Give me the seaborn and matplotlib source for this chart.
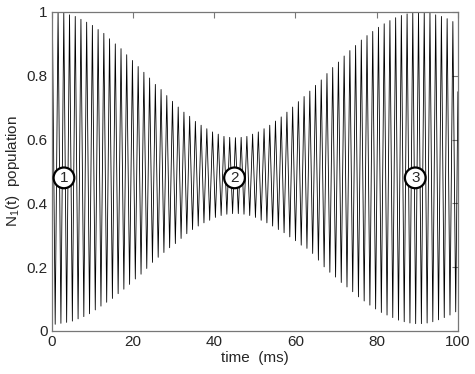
import matplotlib
matplotlib.use("Agg")
import matplotlib.pyplot as plt
import numpy as np
import pandas as pd
import seaborn as sns

# times (ms) of the oscillation maxima and minima
peak_t = [0.14, 1.55, 2.96, 4.37, 5.78, 7.18, 8.59, 10.00, 11.41, 12.82,
          14.23, 15.64, 17.05, 18.45, 19.86, 21.27, 22.68, 24.09, 25.50, 26.91,
          28.32, 29.72, 31.13, 32.54, 33.95, 35.36, 36.77, 38.18, 39.59, 40.99,
          42.40, 43.81, 45.22, 46.63, 48.04, 49.45, 50.86, 52.27, 53.67, 55.08,
          56.49, 57.90, 59.31, 60.72, 62.13, 63.54, 64.94, 66.35, 67.76, 69.17,
          70.58, 71.99, 73.40, 74.81, 76.22, 77.62, 79.03, 80.44, 81.85, 83.26,
          84.67, 86.08, 87.49, 88.89, 90.30, 91.71, 93.12, 94.53, 95.94, 97.35,
          98.76]
peak_n1 = [0.999, 1.0, 0.998, 0.991, 0.986, 0.977, 0.968, 0.958, 0.945, 0.933,
           0.916, 0.900, 0.885, 0.866, 0.848, 0.829, 0.811, 0.793, 0.773, 0.757,
           0.738, 0.720, 0.702, 0.686, 0.673, 0.657, 0.645, 0.634, 0.624, 0.617,
           0.610, 0.607, 0.606, 0.607, 0.610, 0.617, 0.624, 0.634, 0.645, 0.658,
           0.671, 0.686, 0.702, 0.719, 0.735, 0.752, 0.770, 0.787, 0.807, 0.826,
           0.843, 0.862, 0.879, 0.895, 0.912, 0.926, 0.939, 0.952, 0.963, 0.973,
           0.982, 0.989, 0.994, 0.998, 0.999, 1.0, 0.998, 0.991, 0.986, 0.979,
           0.970]

trough_t = [0.84, 2.25, 3.66, 5.07, 6.48, 7.89, 9.30, 10.71, 12.11, 13.52,
            14.93, 16.34, 17.75, 19.16, 20.57, 21.98, 23.39, 24.79, 26.20, 27.61,
            29.02, 30.43, 31.84, 33.25, 34.66, 36.06, 37.47, 38.88, 40.29, 41.70,
            43.11, 44.52, 45.93, 47.33, 48.74, 50.15, 51.56, 52.97, 54.38, 55.79,
            57.20, 58.61, 60.01, 61.42, 62.83, 64.24, 65.65, 67.06, 68.47, 69.88,
            71.28, 72.69, 74.10, 75.51, 76.92, 78.33, 79.74, 81.15, 82.55, 83.96,
            85.37, 86.78, 88.19, 89.60, 91.01, 92.42, 93.82, 95.23, 96.64, 98.05,
            99.46]
trough_n1 = [0.021, 0.024, 0.027, 0.031, 0.038, 0.045, 0.054, 0.066, 0.078, 0.090,
             0.102, 0.117, 0.131, 0.146, 0.163, 0.178, 0.196, 0.215, 0.231, 0.246,
             0.261, 0.274, 0.290, 0.305, 0.318, 0.329, 0.339, 0.347, 0.356, 0.362,
             0.366, 0.368, 0.368, 0.366, 0.362, 0.356, 0.347, 0.339, 0.329, 0.318,
             0.308, 0.295, 0.283, 0.269, 0.259, 0.243, 0.222, 0.201, 0.184, 0.169,
             0.152, 0.138, 0.123, 0.107, 0.094, 0.081, 0.069, 0.058, 0.050, 0.042,
             0.034, 0.029, 0.025, 0.023, 0.023, 0.025, 0.029, 0.035, 0.042, 0.050,
             0.060]

# curve ends at the plot edges
edge_t = [0.0, 100.0]
edge_n1 = [0.80, 0.75]

# circled labels
label_t = [3, 45, 89.5]
label_n1 = [0.48, 0.48, 0.48]
label_txt = ["1", "2", "3"]

xticks = [0, 20, 40, 60, 80, 100]
yticks = [0, 0.2, 0.4, 0.6, 0.8, 1]
yticklabels = ["0", "0.2", "0.4", "0.6", "0.8", "1"]

df = pd.concat([
    pd.DataFrame({"t": peak_t, "n1": peak_n1}),
    pd.DataFrame({"t": trough_t, "n1": trough_n1}),
    pd.DataFrame({"t": edge_t, "n1": edge_n1}),
]).sort_values("t").reset_index(drop=True)

sns.set_style("white")
plt.rcParams['font.family'] = ['Liberation Sans', 'DejaVu Sans']
plt.rcParams['mathtext.fontset'] = 'custom'
plt.rcParams['mathtext.rm'] = 'Liberation Sans'

fig = plt.figure(figsize=(4.75, 3.74), dpi=100)
ax = fig.add_axes([0.109, 0.115, 0.855, 0.853])

sns.lineplot(data=df, x="t", y="n1", sort=True, estimator=None,
             color="black", lw=0.6, ax=ax)

for t, v, s in zip(label_t, label_n1, label_txt):
    ax.text(t, v, s, ha="center", va="center", fontsize=11,
            bbox=dict(boxstyle="circle,pad=0.22", fc="white", ec="black", lw=1.6))

ax.set_xlim(0, 100)
ax.set_ylim(0, 1)
ax.set_xticks(xticks)
ax.set_yticks(yticks)
ax.set_yticklabels(yticklabels)
ax.tick_params(direction="in", length=4, width=0.8, color="#777777",
               labelsize=11, top=True, right=True, pad=3)
for sp in ax.spines.values():
    sp.set_visible(True)
    sp.set_color("#777777")
    sp.set_linewidth(0.9)
ax.set_xlabel("time  (ms)", fontsize=11, labelpad=1)
ax.set_ylabel("N$_\\mathregular{1}$(t)  population", fontsize=11, labelpad=3)

plt.savefig("out.png", dpi=100)
